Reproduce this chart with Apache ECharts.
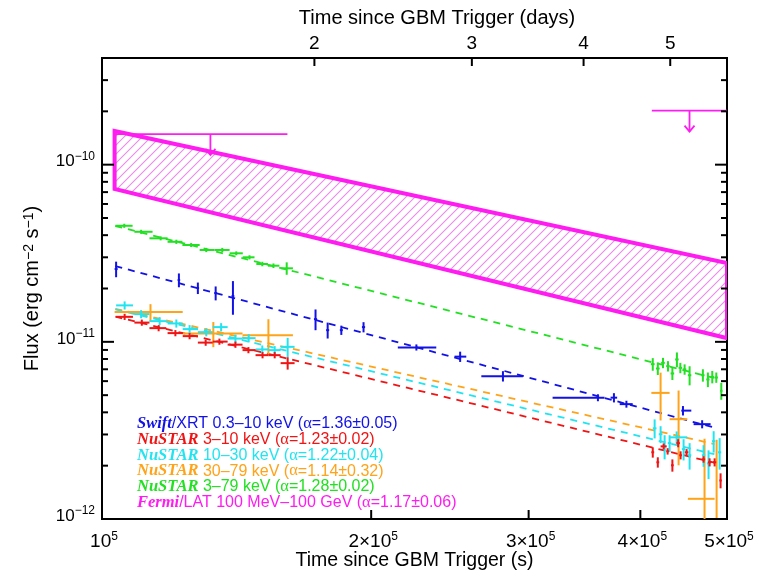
<!DOCTYPE html>
<html>
<head>
<meta charset="utf-8">
<script src="https://cdn.jsdelivr.net/npm/echarts@6/dist/echarts.min.js"></script>
<style>html,body{margin:0;padding:0;background:#fff}#c{width:764px;height:570px}</style>
</head>
<body>
<div id="c"></div>
<script>
// ---------------- DATA ----------------
// error-bar points: [t (s), tLo, tHi, flux (erg cm^-2 s^-1), fluxErr]
const swiftXRT = [
  [103700,103300,104100,2.575e-11,0.26e-11],
  [121900,121500,122300,2.232e-11,0.20e-11],
  [128000,127600,128400,2.011e-11,0.15e-11],
  [134000,133500,134500,1.884e-11,0.17e-11],
  [140100,139600,140600,1.812e-11,0.39e-11],
  [173300,172600,174000,1.343e-11,0.18e-11],
  [178800,178100,179500,1.164e-11,0.12e-11],
  [185200,184500,185900,1.164e-11,0.07e-11],
  [196100,195300,196900,1.211e-11,0.08e-11],
  [224700,214200,236500,9.30e-12,0.37e-12],
  [251500,247900,255500,8.25e-12,0.55e-12],
  [280800,265600,295600,6.40e-12,0.43e-12],
  [358600,319100,364800,4.84e-12,0.22e-12],
  [373700,370500,376800,4.84e-12,0.29e-12],
  [385900,379300,392200,4.45e-12,0.20e-12],
  [446400,444500,456100,4.09e-12,0.25e-12],
  [469000,458800,479300,3.43e-12,0.18e-12]
];
const nustar3to10 = [
  [106000,103700,108300,1.384e-11,0.055e-11],
  [110800,108700,113000,1.284e-11,0.051e-11],
  [115700,113000,118000,1.195e-11,0.048e-11],
  [120800,118400,123100,1.120e-11,0.045e-11],
  [125300,123100,128000,1.077e-11,0.043e-11],
  [130600,128000,133000,0.990e-11,0.040e-11],
  [135300,133000,138200,1.003e-11,0.040e-11],
  [141000,138200,143600,0.964e-11,0.039e-11],
  [145800,143600,148500,0.898e-11,0.036e-11],
  [151200,148500,153500,0.841e-11,0.034e-11],
  [156000,153500,158400,0.841e-11,0.034e-11],
  [161300,158400,164200,0.758e-11,0.061e-11],
  [413000,411500,414500,2.38e-12,0.16e-12],
  [418400,416900,419900,2.09e-12,0.14e-12],
  [424700,421400,428000,2.57e-12,0.10e-12],
  [429100,427600,430600,2.41e-12,0.10e-12],
  [434400,432900,435900,2.01e-12,0.16e-12],
  [440900,438900,442900,2.68e-12,0.14e-12],
  [443700,442200,445200,2.29e-12,0.12e-12],
  [450600,448600,452600,2.38e-12,0.10e-12],
  [470700,468700,472700,2.17e-12,0.09e-12],
  [478100,476100,480100,2.09e-12,0.11e-12],
  [484300,482300,486300,2.09e-12,0.11e-12],
  [491800,490300,493300,1.65e-12,0.16e-12]
];
const nustar10to30 = [
  [106000,103700,108300,1.606e-11,0.085e-11],
  [110600,108700,113000,1.434e-11,0.076e-11],
  [116000,113000,118000,1.309e-11,0.069e-11],
  [121100,118400,123100,1.270e-11,0.067e-11],
  [125300,123100,128000,1.180e-11,0.063e-11],
  [130800,128000,133000,1.134e-11,0.060e-11],
  [135900,133000,138200,1.211e-11,0.064e-11],
  [141000,138200,143600,1.043e-11,0.055e-11],
  [145900,143600,148500,1.049e-11,0.056e-11],
  [151100,148500,153500,0.906e-11,0.048e-11],
  [156000,153500,158400,0.898e-11,0.048e-11],
  [161300,158400,164200,0.937e-11,0.116e-11],
  [415000,413000,417000,3.25e-12,0.40e-12],
  [421400,419400,423400,3.01e-12,0.33e-12],
  [425800,423800,427800,2.57e-12,0.40e-12],
  [431300,429300,433300,2.68e-12,0.29e-12],
  [439200,431300,451400,2.89e-12,0.23e-12],
  [447100,445100,449100,2.48e-12,0.34e-12],
  [454100,452100,456100,2.29e-12,0.39e-12],
  [470700,468700,472700,2.29e-12,0.32e-12],
  [476800,474800,478800,2.06e-12,0.38e-12],
  [483100,481100,485100,2.75e-12,0.38e-12],
  [490600,488600,492600,2.38e-12,0.48e-12]
];
const nustar30to79 = [
  [113300,103300,123100,1.472e-11,0.16e-11],
  [133200,123100,143600,1.113e-11,0.18e-11],
  [153500,143600,163500,1.091e-11,0.25e-11],
  [421400,411500,431300,5.15e-12,1.55e-12],
  [441400,431300,451400,3.66e-12,1.65e-12],
  [471900,452100,484300,1.30e-12,1.54e-12],
  [486800,486300,487300,1.40e-12,1.40e-12]
];
const nustar3to79 = [
  [105900,103500,108200,4.52e-11,0.12e-11],
  [110600,108700,113900,4.18e-11,0.11e-11],
  [116300,113000,118400,3.84e-11,0.10e-11],
  [121100,118400,123000,3.67e-11,0.10e-11],
  [125800,123000,128600,3.52e-11,0.09e-11],
  [130800,128600,133600,3.30e-11,0.09e-11],
  [136300,133600,138900,3.30e-11,0.09e-11],
  [141300,138900,143700,3.16e-11,0.08e-11],
  [146200,143700,148100,3.00e-11,0.08e-11],
  [151100,148800,153300,2.75e-11,0.08e-11],
  [155500,153300,157900,2.69e-11,0.08e-11],
  [160900,158600,163500,2.60e-11,0.21e-11],
  [413000,411000,415000,7.48e-12,0.61e-12],
  [418400,416400,420400,7.07e-12,0.57e-12],
  [424000,422000,426000,7.61e-12,0.51e-12],
  [429500,427500,431500,7.29e-12,0.49e-12],
  [434400,432400,436400,6.63e-12,0.54e-12],
  [439500,437500,441500,7.95e-12,0.76e-12],
  [443400,441400,445400,7.13e-12,0.48e-12],
  [448300,446300,450300,6.99e-12,0.47e-12],
  [454100,452100,456100,6.48e-12,0.80e-12],
  [469900,467900,471900,6.48e-12,0.52e-12],
  [476000,474000,478000,6.13e-12,0.58e-12],
  [481400,479400,483400,6.34e-12,0.51e-12],
  [486400,484400,488400,6.29e-12,0.42e-12],
  [492700,491200,494200,5.29e-12,0.58e-12]
];
// power-law fits (dashed): two end points [t, flux]
const fitSwift   = [[103500,2.677e-11],[484000,3.28e-12]];
const fit3to10   = [[103500,1.388e-11],[484000,2.08e-12]];
const fit10to30  = [[103500,1.526e-11],[484000,2.32e-12]];
const fit30to79  = [[103500,1.536e-11],[484000,2.65e-12]];
const fit3to79   = [[103500,4.505e-11],[484000,6.25e-12]];
// Fermi/LAT butterfly band corners [t, flux]
const fermiBand = [[103300,1.55e-10],[500000,2.78e-11],[500000,1.05e-11],[103300,7.29e-11]];
// Fermi/LAT upper limits: [tLo, tHi, tArrow, flux, arrowTipFlux]
const fermiUL = [
  [103300,161200,132200,1.486e-10,1.135e-10],
  [412000,500000,454000,2.02e-10,1.536e-10]
];
// axis ticks
const xTicks = [1e5,2e5,3e5,4e5,5e5];
const xTickLabels = ['10{s|5}','2×10{s|5}','3×10{s|5}','4×10{s|5}','5×10{s|5}'];
const dayTicks = [2,3,4,5];
const yMajorTicks = [1e-12,1e-11,1e-10];
const yMajorLabels = ['10{s|−12}','10{s|−11}','10{s|−10}'];
const yMinorMultipliers = [2,3,4,5,6,7,8,9];

// ---------------- CHART ----------------
const X_MIN=1e5, X_MAX=5e5, Y_MIN=1e-12, Y_MAX=4e-10, DAY=86400;
const C = {blue:'#1212e6', red:'#f01414', cyan:'#22e4f0', orange:'#ffa319', green:'#22e022', mag:'#ff1cf0'};
const FONT='Liberation Sans';
const xRich = {
  n:{fontSize:19,fontFamily:FONT,fill:'#000',lineHeight:22},
  s:{fontSize:12,fontFamily:FONT,fill:'#000',verticalAlign:'top',lineHeight:22}
};
const yRich = {
  n:{fontSize:17,fontFamily:FONT,fill:'#000',lineHeight:22},
  s:{fontSize:12,fontFamily:FONT,fill:'#000',verticalAlign:'top',lineHeight:22}
};

function hatch(){
  const s=9, c=document.createElement('canvas'); c.width=s; c.height=s;
  const g=c.getContext('2d'); g.strokeStyle='#e98ae9'; g.lineWidth=1.1;
  g.beginPath(); g.moveTo(-1,s+1); g.lineTo(s+1,-1);
  g.moveTo(-1,1); g.lineTo(1,-1); g.moveTo(s-1,s+1); g.lineTo(s+1,s-1); g.stroke();
  return c;
}

function errSeries(data,color){
  return {type:'custom', data:data, encode:{x:0,y:3}, clip:true, z:5,
    renderItem:function(p,api){
      const t=api.value(0), tl=api.value(1), th=api.value(2), f=api.value(3), fe=api.value(4);
      const lo=Math.max(f-fe, Y_MIN*0.05);
      const a=api.coord([tl,f]), b=api.coord([th,f]), c=api.coord([t,f+fe]), d=api.coord([t,lo]);
      const st={stroke:color,lineWidth:2};
      return {type:'group',children:[
        {type:'line',shape:{x1:a[0],y1:a[1],x2:b[0],y2:b[1]},style:st},
        {type:'line',shape:{x1:c[0],y1:c[1],x2:d[0],y2:d[1]},style:st}
      ]};
    }};
}
function fitSeries(data,color){
  return {type:'line', data:data, symbol:'none', silent:true, z:3,
    lineStyle:{color:color,width:1.8,type:[7,6]}};
}

const yTickData=[];
yMajorTicks.forEach((v,i)=>{
  yTickData.push([X_MIN,v,1,i]);
  yMinorMultipliers.forEach(m=>{ if(m*v<=Y_MAX) yTickData.push([X_MIN,m*v,0,-1]); });
});

const hatchImg = hatch();

const option = {
  animation:false,
  grid:{left:102,top:58,width:625,height:461,show:true,borderColor:'#000',borderWidth:2,backgroundColor:'transparent',
        containLabel:false,outerBoundsMode:'none'},
  xAxis:[
    {type:'log',min:X_MIN,max:X_MAX,axisLine:{show:false},axisTick:{show:false},axisLabel:{show:false},splitLine:{show:false},
     name:'Time since GBM Trigger (s)',nameLocation:'middle',nameGap:32,nameTextStyle:{fontSize:19.5,fontFamily:FONT,color:'#000'}},
    {type:'log',position:'top',min:X_MIN/DAY,max:X_MAX/DAY,axisLine:{show:false},axisTick:{show:false},axisLabel:{show:false},splitLine:{show:false}}
  ],
  yAxis:[
    {type:'log',min:Y_MIN,max:Y_MAX,axisLine:{show:false},axisTick:{show:false},axisLabel:{show:false},splitLine:{show:false},
     name:'Flux (erg cm{s|−2} s{s|−1})',nameLocation:'middle',nameGap:60,
     nameTextStyle:{fontSize:20,fontFamily:FONT,color:'#000',rich:{s:{fontSize:14,fontFamily:FONT,color:'#000',verticalAlign:'top'}}}}
  ],
  series:[
    {type:'custom', data:[0], z:2, clip:true,
     renderItem:function(p,api){
       const pts=fermiBand.map(q=>api.coord(q));
       return {type:'polygon',shape:{points:pts},style:{fill:{image:hatchImg,repeat:'repeat'},stroke:C.mag,lineWidth:4,lineJoin:'miter'}};
     }},
    {type:'custom', data:fermiUL, encode:{x:0,y:3}, z:4, clip:false,
     renderItem:function(p,api){
       const tl=api.value(0), th=api.value(1), ta=api.value(2), f=api.value(3), ft=api.value(4);
       const a=api.coord([tl,f]), b=api.coord([th,f]), c=api.coord([ta,f]), d=api.coord([ta,ft]);
       const st={stroke:C.mag,lineWidth:1.8};
       return {type:'group',children:[
         {type:'line',shape:{x1:a[0],y1:a[1],x2:b[0],y2:b[1]},style:st},
         {type:'line',shape:{x1:c[0],y1:c[1],x2:d[0],y2:d[1]},style:st},
         {type:'polyline',shape:{points:[[d[0]-5,d[1]-6],[d[0],d[1]],[d[0]+5,d[1]-6]]},style:{stroke:C.mag,lineWidth:1.8,fill:null}}
       ]};
     }},
    fitSeries(fit3to79,C.green),
    fitSeries(fitSwift,C.blue),
    fitSeries(fit30to79,C.orange),
    fitSeries(fit10to30,C.cyan),
    fitSeries(fit3to10,C.red),
    errSeries(nustar3to79,C.green),
    errSeries(swiftXRT,C.blue),
    errSeries(nustar30to79,C.orange),
    errSeries(nustar10to30,C.cyan),
    errSeries(nustar3to10,C.red),
    {type:'custom', data:yTickData, encode:{x:0,y:1}, z:10, silent:true,
     renderItem:function(p,api){
       const v=api.value(1), major=api.value(2)===1, li=api.value(3);
       const L=api.coord([X_MIN,v]), R=api.coord([X_MAX,v]);
       const len=major?12:6, st={stroke:'#000',lineWidth:2};
       const ch=[
         {type:'line',shape:{x1:L[0],y1:L[1],x2:L[0]+len,y2:L[1]},style:st},
         {type:'line',shape:{x1:R[0]-len,y1:R[1],x2:R[0],y2:R[1]},style:st}
       ];
       if(major) ch.push({type:'text',x:L[0]-7,y:L[1]-3,style:{text:yMajorLabels[li],rich:yRich,align:'right',verticalAlign:'middle',fill:'#000',fontSize:17,fontFamily:FONT}});
       return {type:'group',children:ch};
     }},
    {type:'custom', data:xTicks.map((v,i)=>[v,Y_MIN,i]), encode:{x:0,y:1}, z:10, silent:true,
     renderItem:function(p,api){
       const v=api.value(0), i=api.value(2);
       const P=api.coord([v,Y_MIN]);
       return {type:'group',children:[
         {type:'line',shape:{x1:P[0],y1:P[1],x2:P[0],y2:P[1]-9},style:{stroke:'#000',lineWidth:2}},
         {type:'text',x:P[0]+2,y:P[1]+23,style:{text:xTickLabels[i],rich:xRich,align:'center',verticalAlign:'middle',fill:'#000',fontSize:19,fontFamily:FONT}}
       ]};
     }},
    {type:'custom', xAxisIndex:1, data:dayTicks.map(d=>[d,Y_MAX]), encode:{x:0,y:1}, z:10, silent:true,
     renderItem:function(p,api){
       const v=api.value(0);
       const P=api.coord([v,Y_MAX]);
       return {type:'group',children:[
         {type:'line',shape:{x1:P[0],y1:P[1],x2:P[0],y2:P[1]+8},style:{stroke:'#000',lineWidth:2}},
         {type:'text',x:P[0],y:P[1]-14,style:{text:String(v),align:'center',verticalAlign:'middle',fill:'#000',fontSize:19,fontFamily:FONT}}
       ]};
     }}
  ],
  graphic:[
    {type:'text',x:437,y:18,silent:true,style:{text:'Time since GBM Trigger (days)',align:'center',verticalAlign:'middle',fill:'#000',fontSize:20,fontFamily:FONT}}
  ]
};

const legendLines = [
  {it:'Swift', rest:'/XRT 0.3–10 keV (', a:'α', tail:'=1.36±0.05)', color:C.blue},
  {it:'NuSTAR', rest:' 3–10 keV (', a:'α', tail:'=1.23±0.02)', color:C.red},
  {it:'NuSTAR', rest:' 10–30 keV (', a:'α', tail:'=1.22±0.04)', color:C.cyan},
  {it:'NuSTAR', rest:' 30–79 keV (', a:'α', tail:'=1.14±0.32)', color:C.orange},
  {it:'NuSTAR', rest:' 3–79 keV (', a:'α', tail:'=1.28±0.02)', color:C.green},
  {it:'Fermi', rest:'/LAT 100 MeV–100 GeV (', a:'α', tail:'=1.17±0.06)', color:C.mag}
];
legendLines.forEach((l,i)=>{
  option.graphic.push({type:'text',x:137,y:424+i*15.7,silent:true,z:20,
    style:{text:'{i|'+l.it+'}{n|'+l.rest+'}{a|'+l.a+'}{n|'+l.tail+'}',verticalAlign:'middle',fill:l.color,
      rich:{
        i:{fontFamily:'Liberation Serif',fontStyle:'italic',fontWeight:'bold',fontSize:16.5,fill:l.color},
        n:{fontFamily:FONT,fontSize:16,fill:l.color},
        a:{fontFamily:'Liberation Serif',fontSize:16.5,fill:l.color}
      }}});
});

const chart = echarts.init(document.getElementById('c'),null,{renderer:'canvas'});
chart.setOption(option);
</script>
</body>
</html>
